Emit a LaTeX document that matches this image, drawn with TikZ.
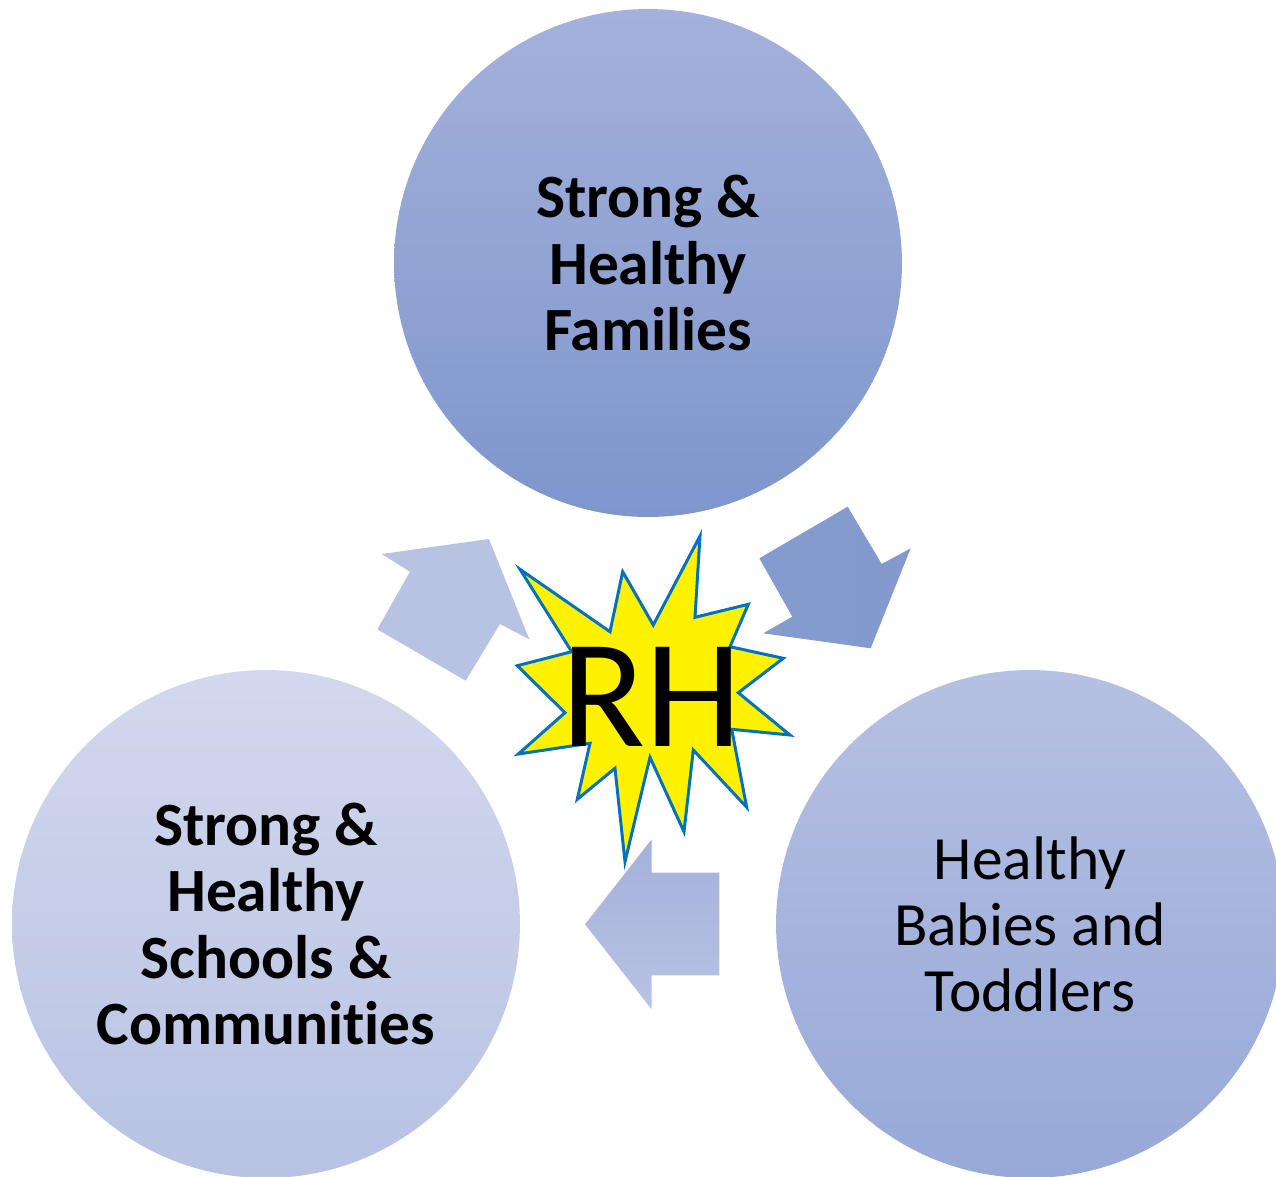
\documentclass[tikz,border=0pt]{standalone}
\usepackage{fontspec}
\setmainfont{Carlito}[Ligatures=NoCommon]
\usepackage{xcolor}

\definecolor{famtop}{HTML}{A4B1DB}
\definecolor{fambot}{HTML}{7E96CC}
\definecolor{schtop}{HTML}{D2D8ED}
\definecolor{schbot}{HTML}{B8C2E3}
\definecolor{babtop}{HTML}{B6C0E2}
\definecolor{babbot}{HTML}{97A9D8}
\definecolor{burstline}{HTML}{0070C0}

\tikzset{
	ring/.style={circle, minimum size=10.16cm, inner sep=0pt, align=center,
		font=\fontsize{35}{37.6}\selectfont},
	boldring/.style={ring, font=\fontsize{35}{37.6}\selectfont\bfseries},
	burst/.style={fill=yellow, draw=burstline, line width=1.7pt, line join=miter}
}

\begin{document}
\begin{tikzpicture}[x=0.02cm,y=-0.02cm]
		%\draw[help lines] (0,0) grid (1276,1177);
		\useasboundingbox (0,0) rectangle (1276,1177);
		\clip (0,0) rectangle (1276,1177);

		\node[boldring, top color=famtop, bottom color=fambot] (families) at (648,263) {Strong \&\\Healthy\\Families};
		\node[boldring, top color=schtop, bottom color=schbot] (schools) at (266,924) {Strong \&\\Healthy\\Schools \&\\Communities};
		\node[ring, top color=babtop, bottom color=babbot] (babies) at (1030,924) {Healthy\\Babies and\\Toddlers};

		% block arrows
		\path[fill=schbot] (381.7,554) -- (489,539) -- (529.3,639.3) -- (500,624)
			-- (465.7,680.7) -- (377.3,629.3) -- (410,571.7) -- cycle;
		\path[left color=fambot!95!white, right color=fambot!85!famtop] (759.3,558.3) -- (847.7,506.7) -- (881.7,564)
			-- (910.7,548.3) -- (870.7,648.3) -- (763.3,633.3) -- (792.3,616.7) -- cycle;
		\path[top color=famtop, bottom color=schbot] (719.3,872.7) -- (651.7,872.7) -- (651.7,839.3) -- (585,924.3)
			-- (651.7,1009.3) -- (651.7,975.3) -- (719.3,975.3) -- cycle;

		% burst
		\draw[burst] (520,569.3) -- (610,631.7) -- (622.7,571.7) -- (653.3,625) -- (700,536) -- (695,617.3)
			-- (748.3,604.3) -- (730,646.7) -- (783.3,658.3) -- (738.3,692.7) -- (790,735) -- (731.7,729.3)
			-- (746.7,807.3) -- (693.3,750) -- (684,831.7) -- (650,757.3) -- (625,861.7) -- (615,768.3)
			-- (577.3,799.3) -- (590,743.3) -- (518.3,754) -- (565,712.7) -- (517.3,665.7) -- (571.7,651.7) -- cycle;
		\node[inner sep=0pt, font=\fontsize{88}{100}\selectfont] (rh) at (651.7,696.7) {RH};
\end{tikzpicture}
\end{document}
